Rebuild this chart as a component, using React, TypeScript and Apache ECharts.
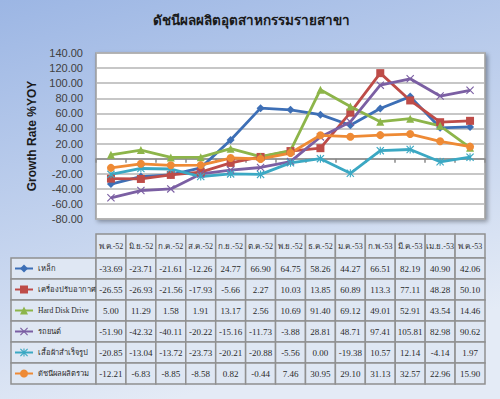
import React, { useEffect, useRef } from "react";
import * as echarts from "echarts";

const titleText = "ดัชนีผลผลิตอุตสาหกรรมรายสาขา";
const yAxisName = "Growth Rate %YOY";

const months = ["พ.ค.-52", "มิ.ย.-52", "ก.ค.-52", "ส.ค.-52", "ก.ย.-52", "ต.ค.-52", "พ.ย.-52", "ธ.ค.-52", "ม.ค.-53", "ก.พ.-53", "มี.ค.-53", "เม.ย.-53", "พ.ค.-53"];

const seriesNames = ["เหล็ก", "เครื่องปรับอากาศ", "Hard Disk Drive", "รถยนต์", "เสื้อผ้าสำเร็จรูป", "ดัชนีผลผลิตรวม"];

const steel = ["-33.69", "-23.71", "-21.61", "-12.26", "24.77", "66.90", "64.75", "58.26", "44.27", "66.51", "82.19", "40.90", "42.06"];
const aircon = ["-26.55", "-26.93", "-21.56", "-17.93", "-5.66", "2.27", "10.03", "13.85", "60.89", "113.3", "77.11", "48.28", "50.10"];
const hdd = ["5.00", "11.29", "1.58", "1.91", "13.17", "2.56", "10.69", "91.40", "69.12", "49.01", "52.91", "43.54", "14.46"];
const car = ["-51.90", "-42.32", "-40.11", "-20.22", "-15.16", "-11.73", "-3.88", "28.81", "48.71", "97.41", "105.81", "82.98", "90.62"];
const garment = ["-20.85", "-13.04", "-13.72", "-23.73", "-20.21", "-20.88", "-5.56", "0.00", "-19.38", "10.57", "12.14", "-4.14", "1.97"];
const total = ["-12.21", "-6.83", "-8.85", "-8.58", "0.82", "-0.44", "7.46", "30.95", "29.10", "31.13", "32.57", "22.96", "15.90"];

const allSeries = [steel, aircon, hdd, car, garment, total];
const colors = ["#3d6fb6", "#be4c48", "#8db54a", "#7b5fa3", "#3ba8c3", "#ee8a35"];

const xSym = "path://M0,1L1,0L5,4L9,0L10,1L6,5L10,9L9,10L5,6L1,10L0,9L4,5Z";
const starSym = "path://M0,1L1,0L5,4L9,0L10,1L6,5L10,9L9,10L5,6L1,10L0,9L4,5Z M4.3,0L5.7,0L5.7,10L4.3,10Z";
const symbols = ["diamond", "rect", "triangle", xSym, starSym, "circle"];

export default function App() {
  const ref = useRef<HTMLDivElement>(null);
  useEffect(() => {
    if (!ref.current) return;
    const chart = echarts.init(ref.current, null, { renderer: "svg" });

    const W = 500;
    const gLeft = 96;
    const gRight = 15;
    const gTop = 53;
    const gBottom = 180;
    const L = gLeft;
    const R = W - gRight;
    const n = months.length;
    const colW = (R - L) / n;
    const headerTop = 234;
    const headerH = 24;
    const rowTop = 258;
    const rowH = 21;
    const legLeft = 11;

    const cellFill = "#dfe7f3";
    const cellStroke = "#909090";
    const tableFont = "9px 'Liberation Serif', 'DejaVu Serif', serif";

    const graphics: any[] = [];
    months.forEach((m, i) => {
      graphics.push({
        type: "rect",
        z: 1,
        shape: { x: L + i * colW, y: headerTop, width: colW, height: headerH },
        style: { fill: cellFill, stroke: cellStroke, lineWidth: 1.5 },
      });
      graphics.push({
        type: "text",
        z: 2,
        x: L + i * colW + colW / 2,
        y: headerTop + headerH / 2,
        style: { text: m, align: "center", verticalAlign: "middle", font: "8px 'Liberation Serif', 'DejaVu Serif', serif", fill: "#333" },
      });
    });
    allSeries.forEach((arr, r) => {
      const y = rowTop + r * rowH;
      graphics.push({
        type: "rect",
        z: 1,
        shape: { x: legLeft, y, width: L - legLeft, height: rowH },
        style: { fill: cellFill, stroke: cellStroke, lineWidth: 1.5 },
      });
      arr.forEach((v, i) => {
        graphics.push({
          type: "rect",
          z: 1,
          shape: { x: L + i * colW, y, width: colW, height: rowH },
          style: { fill: cellFill, stroke: cellStroke, lineWidth: 1.5 },
        });
        graphics.push({
          type: "text",
          z: 2,
          x: L + i * colW + colW / 2,
          y: y + rowH / 2,
          style: { text: v, align: "center", verticalAlign: "middle", font: tableFont, fill: "#2a2a2a" },
        });
      });
    });
    graphics.push({
      type: "text",
      z: 2,
      x: 251,
      y: 20,
      style: { text: titleText, align: "center", verticalAlign: "middle", font: "bold 13.5px 'Noto Sans', 'DejaVu Sans', sans-serif", fill: "#1a1a1a" },
    });

    chart.setOption({
      animation: false,
      backgroundColor: {
        type: "linear",
        x: 0,
        y: 0,
        x2: 0.35,
        y2: 1,
        colorStops: [
          { offset: 0, color: "#9cb6e4" },
          { offset: 1, color: "#e4ebf6" },
        ],
      },
      grid: {
        left: gLeft,
        right: gRight,
        top: gTop,
        bottom: gBottom,
        show: true,
        backgroundColor: "#ffffff",
        borderColor: "#9a9a9a",
        borderWidth: 1.5,
        shadowColor: "rgba(0,0,0,0.35)",
        shadowBlur: 4,
        shadowOffsetX: 2,
        shadowOffsetY: 2,
      },
      legend: {
        orient: "vertical",
        left: 14,
        top: rowTop + rowH / 2 - 5,
        padding: 0,
        itemWidth: 18,
        itemHeight: 10,
        itemGap: rowH - 10,
        z: 10,
        selectedMode: false,
        textStyle: { fontFamily: "'Liberation Serif', 'DejaVu Serif', serif", fontSize: 7.6, lineHeight: 10, color: "#2a2a2a" },
        data: seriesNames,
      },
      xAxis: {
        type: "category",
        data: months,
        boundaryGap: true,
        axisLabel: { show: false },
        axisLine: { onZero: true, lineStyle: { color: "#8a8a8a", width: 1.5 } },
        axisTick: { show: true, interval: 0, length: 4, lineStyle: { color: "#8a8a8a", width: 1.5 } },
        splitLine: { show: false },
      },
      yAxis: {
        type: "value",
        min: -80,
        max: 140,
        interval: 20,
        name: yAxisName,
        nameLocation: "middle",
        nameRotate: 90,
        nameGap: 46,
        nameTextStyle: { fontFamily: "'Liberation Sans', Arial, sans-serif", fontSize: 12, fontWeight: "bold", color: "#1a1a1a" },
        axisLine: { show: false },
        axisTick: { show: false },
        axisLabel: {
          margin: 13,
          formatter: (v: number) => v.toFixed(2),
          fontFamily: "'Liberation Sans', Arial, sans-serif",
          fontSize: 11,
          color: "#404040",
        },
        splitLine: { show: true, lineStyle: { color: "#b4b4b4", width: 1.5 } },
      },
      series: allSeries.map((arr, i) => ({
        type: "line",
        name: seriesNames[i],
        data: arr.map((s) => Number(s)),
        symbol: symbols[i],
        symbolSize: 8,
        showAllSymbol: true,
        lineStyle: { width: 2.8, color: colors[i] },
        itemStyle: { color: colors[i] },
        z: 3,
      })),
      graphic: graphics,
    });
    return () => chart.dispose();
  }, []);
  return <div ref={ref} style={{ position: "fixed", left: 0, top: 0, width: 500, height: 399 }} />;
}
